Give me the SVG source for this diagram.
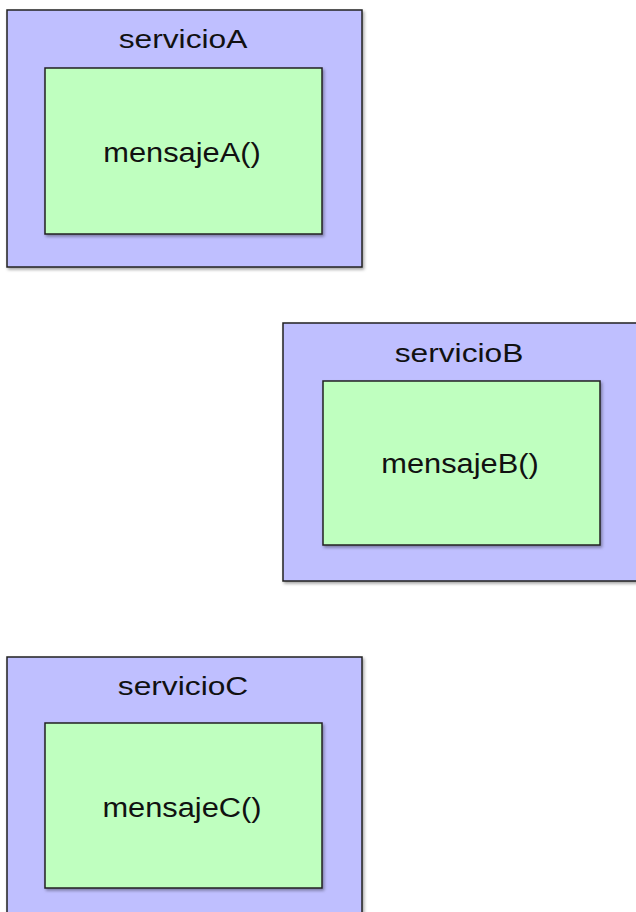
<svg xmlns="http://www.w3.org/2000/svg" width="636" height="912" viewBox="0 0 636 912">
  <style>
    .service { fill: #bfbfff; stroke: #222; stroke-width: 1.5; filter: url(#shadow); }
    .message { fill: #bfffbf; stroke: #222; stroke-width: 1.5; filter: url(#shadow); }
    text { font-family: "Liberation Sans", Arial, sans-serif; fill: #111; text-anchor: middle; }
    .title { font-size: 25px; }
    .msg { font-size: 28px; }
  </style>
  <defs>
    <filter id="shadow" x="-5%" y="-5%" width="115%" height="115%">
      <feDropShadow dx="1.5" dy="2" stdDeviation="1.5" flood-color="#000" flood-opacity="0.35"/>
    </filter>
  </defs>
  <rect width="636" height="912" fill="#fff"/>

  <g id="servicioA">
    <rect class="service" x="7" y="10" width="355" height="257"/>
    <text class="title" transform="translate(183,48) scale(1.27,1)">servicioA</text>
    <g id="mensajeA">
      <rect class="message" x="45" y="68" width="277" height="166"/>
      <text class="msg" transform="translate(182,162) scale(1.1,1)">mensajeA()</text>
    </g>
  </g>

  <g id="servicioB">
    <rect class="service" x="283" y="323" width="355" height="258"/>
    <text class="title" transform="translate(459,362) scale(1.27,1)">servicioB</text>
    <g id="mensajeB">
      <rect class="message" x="323" y="381" width="277" height="164"/>
      <text class="msg" transform="translate(460,473) scale(1.1,1)">mensajeB()</text>
    </g>
  </g>

  <g id="servicioC">
    <rect class="service" x="7" y="657" width="355" height="270"/>
    <text class="title" transform="translate(183,695) scale(1.27,1)">servicioC</text>
    <g id="mensajeC">
      <rect class="message" x="45" y="723" width="277" height="165"/>
      <text class="msg" transform="translate(182,817) scale(1.1,1)">mensajeC()</text>
    </g>
  </g>

  <g id="connectors"/>
</svg>
